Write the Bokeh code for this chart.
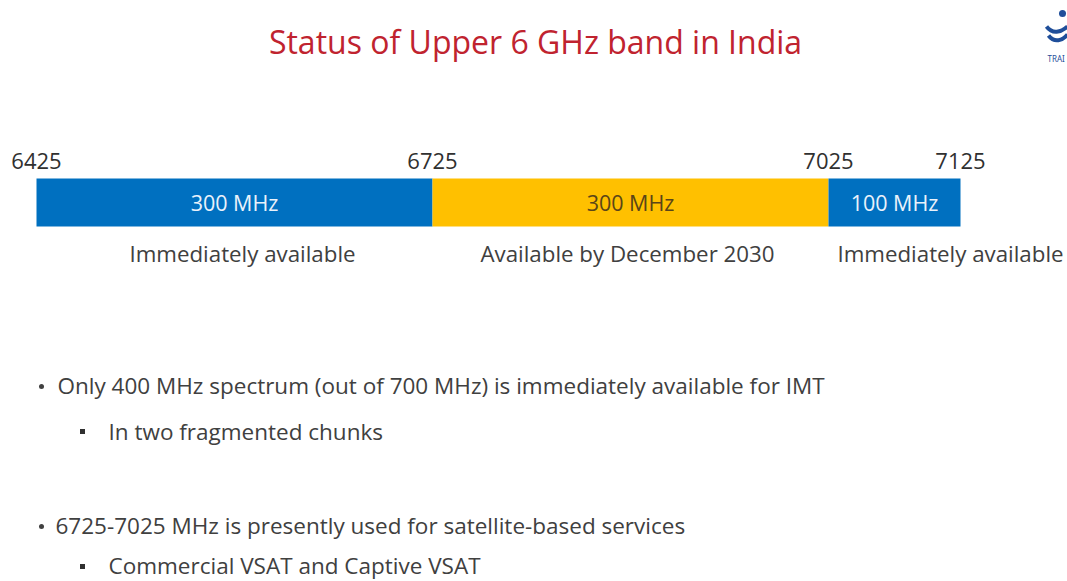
from bokeh.plotting import figure
from bokeh.models import Range1d, ColumnDataSource
from bokeh.core.properties import value
from bokeh.embed import file_html
from bokeh.resources import INLINE

# ---- data ----
band_edges = [6425, 6725, 7025, 7125]               # MHz
segment_start = [6425, 6725, 7025]
segment_end = [6725, 7025, 7125]
segment_labels = ["300 MHz", "300 MHz", "100 MHz"]
segment_status = ["Immediately available", "Available by December 2030", "Immediately available"]
segment_colors = ["#0070C0", "#FFC000", "#0070C0"]
segment_text_colors = ["#EAF2FB", "#5A4518", "#EAF2FB"]
edge_labels = [str(e) for e in band_edges]

title_text = "Status of Upper 6 GHz band in India"
bullets = [
    "Only 400 MHz spectrum (out of 700 MHz) is immediately available for IMT",
    "6725-7025 MHz is presently used for satellite-based services",
]
sub_bullets = [
    "In two fragmented chunks",
    "Commercial VSAT and Captive VSAT",
]

# ---- layout ----
W, H = 1067, 581
PX_PER_MHZ = 1.32
LEFT_PAD = 36
x0 = band_edges[0] - LEFT_PAD / PX_PER_MHZ
x1 = x0 + W / PX_PER_MHZ
FONT = "Open Sans"

p = figure(width=W, height=H, x_range=Range1d(x0, x1), y_range=Range1d(H, 0),
           output_backend="svg", toolbar_location=None, min_border=0,
           background_fill_color="white", border_fill_color="white")
p.axis.visible = False
p.grid.visible = False
p.outline_line_color = None
p.extra_x_ranges = {"px": Range1d(0, W)}

# bars
seg = ColumnDataSource(dict(
    left=segment_start, right=segment_end,
    mid=[(a + b) / 2 for a, b in zip(segment_start, segment_end)],
    label=segment_labels, status=segment_status,
    color=segment_colors, tcolor=segment_text_colors,
    off=[8, -3, 56],
))
p.quad(left="left", right="right", top=178, bottom=226, source=seg,
       fill_color="color", line_color=None)
p.text(x="mid", y=202, text="label", source=seg, text_color="tcolor",
       text_font=value(FONT), text_font_size="21.5px", text_align="center",
       text_baseline="middle")
p.text(x="mid", y=253, text="status", source=seg, text_color="#404040",
       text_font=value(FONT), text_font_size="22.3px", text_align="center",
       text_baseline="middle", x_offset="off")

# edge labels
edges = ColumnDataSource(dict(x=band_edges, t=edge_labels))
p.text(x="x", y=160, text="t", source=edges, text_color="#303030",
       text_font=value(FONT), text_font_size="22px", text_align="center",
       text_baseline="middle")

# title
p.text(x=[535], y=[41], text=[title_text], x_range_name="px",
       text_color="#C0232F", text_font=value(FONT), text_font_size="32px",
       text_align="center", text_baseline="middle")

# bullets
p.text(x=[57, 55], y=[385, 525], text=bullets, x_range_name="px",
       text_color="#404040", text_font=value(FONT), text_font_size="22.5px",
       text_baseline="middle")
p.scatter(x=[41, 41], y=[386, 526], marker="circle", size=5, x_range_name="px",
          fill_color="#404040", line_color=None)
p.text(x=[108, 108], y=[431, 565], text=sub_bullets, x_range_name="px",
       text_color="#404040", text_font=value(FONT), text_font_size="22.5px",
       text_baseline="middle")
p.scatter(x=[82, 82], y=[431, 566], marker="square", size=5, x_range_name="px",
          fill_color="#303030", line_color=None)

# logo (partial, top right)
p.scatter(x=[1062], y=[13], marker="circle", size=7, x_range_name="px",
          fill_color="#1F4E9A", line_color=None)
p.bezier(x0=[1046, 1048], y0=[26, 35], x1=[1067, 1067], y1=[26, 34],
         cx0=[1052, 1054], cy0=[34, 43], cx1=[1060, 1062], cy1=[32, 40],
         x_range_name="px", line_color="#1F4E9A", line_width=4)
p.text(x=[1047], y=[58], text=["TRAI"], x_range_name="px",
       text_color="#1F4E9A", text_font=value("Noto Sans"), text_font_size="8px",
       text_baseline="alphabetic")

open("out.html", "w").write(file_html(p, INLINE))
